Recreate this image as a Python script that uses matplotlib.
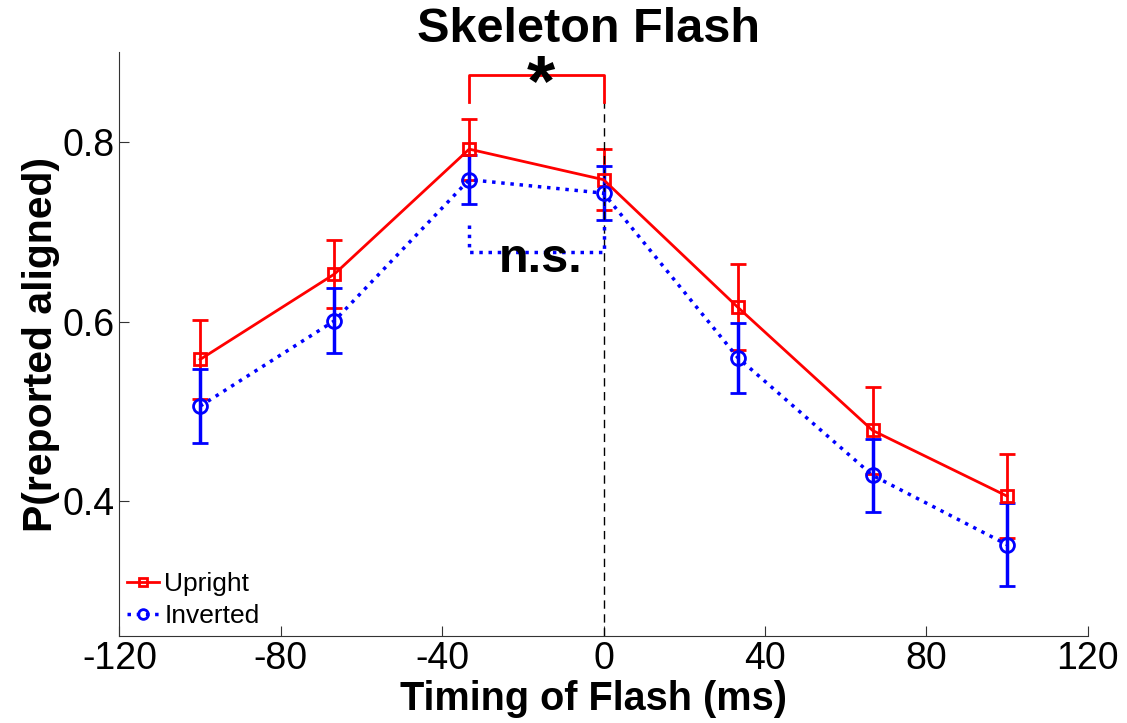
import numpy as np
import matplotlib.pyplot as plt

plt.rcParams['font.family'] = ['Liberation Sans', 'DejaVu Sans']
plt.rcParams['axes.unicode_minus'] = False

timing = [-100, -66.7, -33.3, 0, 33.3, 66.7, 100]
upright = [0.558, 0.653, 0.792, 0.758, 0.616, 0.479, 0.406]
upright_err = [0.044, 0.038, 0.034, 0.034, 0.048, 0.048, 0.047]
inverted = [0.506, 0.601, 0.758, 0.743, 0.560, 0.429, 0.352]
inverted_err = [0.041, 0.036, 0.027, 0.030, 0.039, 0.041, 0.046]

fig = plt.figure(figsize=(11.27, 7.23), dpi=100)
ax = fig.add_axes([0.106, 0.12, 0.859, 0.808])

eb_up = ax.errorbar(timing, upright, yerr=upright_err, color='red',
                    linestyle='-', linewidth=2, marker='s', markersize=9,
                    markerfacecolor='none', markeredgewidth=2, capsize=6,
                    capthick=2, elinewidth=2)
eb_inv = ax.errorbar(timing, inverted, yerr=inverted_err, color='blue',
                     linestyle=':', linewidth=2.5, marker='o', markersize=10,
                     markerfacecolor='none', markeredgewidth=2, capsize=6,
                     capthick=2, elinewidth=2.5)

# flash onset marker
ax.plot([0, 0], [0.25, 0.845], color='black', linestyle='--', linewidth=1,
        dashes=(6, 4))

# significance brackets between -33 ms and 0 ms
ax.plot([-33.3, -33.3, 0, 0], [0.844, 0.874, 0.874, 0.844], color='red',
        linewidth=2)
ax.text(-15.5, 0.862, '*', fontsize=52, fontweight='bold', ha='center',
        va='center')
ax.plot([-33.3, -33.3, 0, 0], [0.708, 0.678, 0.678, 0.708], color='blue',
        linestyle=':', linewidth=2.5)
ax.text(-15.5, 0.669, 'n.s.', fontsize=35, fontweight='bold', ha='center',
        va='center')

ax.set_xlim(-120, 120)
ax.set_ylim(0.25, 0.9)
ax.set_xticks([-120, -80, -40, 0, 40, 80, 120])
ax.set_yticks([0.4, 0.6, 0.8])
ax.tick_params(direction='in', length=7, labelsize=27, colors='#333333',
               labelcolor='black')

for side in ['top', 'right']:
    ax.spines[side].set_visible(False)
for side in ['left', 'bottom']:
    ax.spines[side].set_color('#333333')

ax.set_title('Skeleton Flash', fontsize=35, fontweight='bold', x=0.485, pad=2)
ax.set_xlabel('Timing of Flash (ms)', fontsize=28.5, fontweight='bold',
              labelpad=0)
ax.xaxis.set_label_coords(0.49, -0.075)
ax.set_ylabel('P(reported aligned)', fontsize=29.5, fontweight='bold',
              labelpad=2)

ax.legend([eb_up[0], eb_inv[0]], ['Upright', 'Inverted'], loc='lower left',
          frameon=False, fontsize=19, handlelength=1.2, handletextpad=0.2,
          borderaxespad=0.0, borderpad=0.3, labelspacing=0.3, markerscale=0.7)

fig.savefig('out.png', dpi=100)
